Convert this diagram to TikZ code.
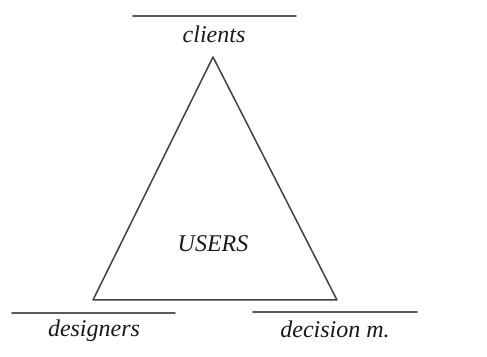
\documentclass[tikz,border=0pt]{standalone}
\usepackage{fontspec}
\setmainfont{Liberation Serif}
\usetikzlibrary{positioning}
\begin{document}
\begin{tikzpicture}[x=1pt,y=1pt,line join=round,line cap=round,
  font=\fontsize{24}{27}\selectfont\itshape,
  lbl/.style={inner sep=0pt,text=black!90},
  bar/.style={line width=1.7pt,draw=black!65}]
 \useasboundingbox (0,0) rectangle (487,356);
 % triangle
 \coordinate (top) at (213,299);
 \coordinate (bl) at (93,56);
 \coordinate (br) at (337,56);
 \draw[line width=1.5pt,draw=black!75] (top)--(bl)--(br)--cycle;
 \node[lbl] (users) at (213,112) {USERS};
 % labels with their bars
 \node[lbl] (clients) at (214,322) {clients};
 \draw[bar] (133,340)--(296,340);
 \node[lbl] (designers) at (94,25) {designers};
 \draw[bar] (12,43)--(175,43);
 \node[lbl] (decision) at (335,27) {decision m.};
 \draw[bar] (253,44)--(417,44);
\end{tikzpicture}
\end{document}
